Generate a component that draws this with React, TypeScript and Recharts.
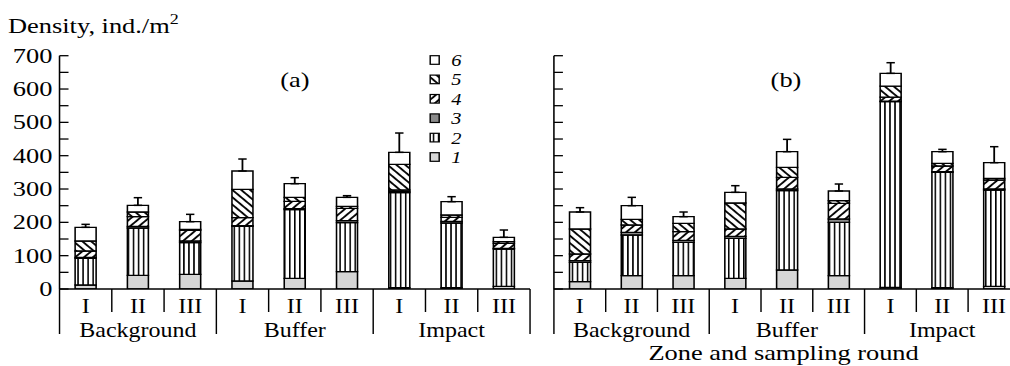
import React from 'react'
import { BarChart, Bar, XAxis, YAxis, ErrorBar, Legend } from 'recharts'

const rounds = ['I', 'II', 'III', 'I', 'II', 'III', 'I', 'II', 'III']
const zones = ['Background', 'Buffer', 'Impact']
const groupNames = ['1', '2', '3', '4', '5', '6']
const yTicks = [0, 50, 100, 150, 200, 250, 300, 350, 400, 450, 500, 550, 600, 650, 700]

// panel (a), groups 1..6, bottom to top
const a1 = [12, 41, 44, 24, 32, 52, 4, 4, 8]
const a2 = [80, 142, 95, 164, 206, 147, 285, 194, 112]
const a3 = [3, 5, 5, 2, 3, 6, 3, 5, 2]
const a4 = [19, 29, 32, 24, 22, 37, 5, 12, 15]
const a5 = [30, 14, 3, 85, 12, 6, 77, 7, 5]
const a6 = [41, 20, 23, 55, 41, 27, 36, 40, 13]
const aErrTop = [194, 274, 224, 390, 334, 280, 468, 277, 177]

// panel (b)
const b1 = [22, 40, 40, 32, 57, 40, 5, 4, 8]
const b2 = [58, 122, 100, 120, 238, 160, 557, 346, 289]
const b3 = [5, 8, 6, 6, 5, 10, 2, 2, 3]
const b4 = [20, 22, 26, 22, 35, 47, 12, 17, 27]
const b5 = [75, 17, 25, 78, 30, 8, 33, 8, 5]
const b6 = [51, 41, 20, 32, 47, 29, 38, 35, 47]
const bErrTop = [244, 275, 231, 310, 449, 315, 679, 419, 427]

// the printed figure is stretched sideways, so draw narrow and scale x
const SX = 1.2
const AXIS_W = 49.6
const H = 366
const FILLS = ['#d6d6d6', 'url(#vstripe)', '#8a8a8a', 'url(#hatchF)', 'url(#hatchB)', '#ffffff']

function buildRows(series: number[][], errTop: number[]) {
  return rounds.map((r, i) => {
    const row: any = { id: `${zones[Math.floor(i / 3)]}-${r}` }
    let total = 0
    series.forEach((s, k) => {
      row[`s${k + 1}`] = s[i]
      total += s[i]
    })
    row.errRange = [0, errTop[i] - total]
    return row
  })
}

const rowsA = buildRows([a1, a2, a3, a4, a5, a6], aErrTop)
const rowsB = buildRows([b1, b2, b3, b4, b5, b6], bErrTop)

function YTick(props: any) {
  const { x, y, payload, showLabel } = props
  return (
    <g>
      <line x1={x} x2={x + 7.5} y1={y} y2={y} stroke="#000" strokeWidth={1.3} />
      {showLabel && payload.value % 100 === 0 && (
        <text x={x - 6} y={y + 7} textAnchor="end" fontSize={22} fill="#000">
          {payload.value}
        </text>
      )}
    </g>
  )
}

function XTick(props: any) {
  const { x, y, index, step } = props
  const left = x - step / 2
  return (
    <g stroke="none" fill="#000">
      <text x={x} y={y + 24} textAnchor="middle" fontSize={20}>
        {rounds[index]}
      </text>
      <line x1={left} x2={left} y1={y} y2={y + (index % 3 === 0 ? 45 : 23)} stroke="#000" strokeWidth={1.2} />
      {index % 3 === 1 && (
        <text x={x} y={y + 48} textAnchor="middle" fontSize={20}>
          {zones[(index - 1) / 3]}
        </text>
      )}
      {index === rounds.length - 1 && (
        <line x1={x + step / 2} x2={x + step / 2} y1={y} y2={y + 45} stroke="#000" strokeWidth={1.2} />
      )}
    </g>
  )
}

function LegendBox(props: any) {
  const items = [...(props.payload || [])].reverse()
  return (
    <svg width={50} height={125}>
      {items.map((it: any, i: number) => {
        const cy = 12 + i * 19.4
        return (
          <g key={it.value}>
            <rect x={3.5} y={cy - 4.3} width={7.5} height={8.6} fill={it.color} stroke="#000" strokeWidth={1.2} />
            <text x={21} y={cy + 6} fontSize={17} fontStyle="italic" fill="#000">
              {it.value}
            </text>
          </g>
        )
      })}
    </svg>
  )
}

function Panel({ data, width, plotW, showLabels, legend }: any) {
  const step = plotW / rounds.length
  return (
    <BarChart
      width={width}
      height={H}
      data={data}
      margin={{ top: 55.7, right: width - AXIS_W - plotW, bottom: 0, left: 0 }}
      barSize={17.5}
    >
      <XAxis
        dataKey="id"
        height={77}
        interval={0}
        tickLine={false}
        tickSize={0}
        tickMargin={0}
        axisLine={{ stroke: '#000', strokeWidth: 1.3 }}
        tick={<XTick step={step} />}
      />
      <YAxis
        type="number"
        width={AXIS_W}
        domain={[0, 700]}
        ticks={yTicks}
        interval={0}
        allowDataOverflow
        tickLine={false}
        tickSize={0}
        tickMargin={0}
        axisLine={{ stroke: '#000', strokeWidth: 1.3 }}
        tick={<YTick showLabel={showLabels} />}
      />
      {FILLS.map((f, k) => (
        <Bar
          key={k}
          dataKey={`s${k + 1}`}
          name={groupNames[k]}
          stackId="z"
          fill={f}
          stroke="#000"
          strokeWidth={1.3}
          isAnimationActive={false}
        >
          {k === 5 && <ErrorBar dataKey="errRange" width={3.5} stroke="#000" strokeWidth={1.5} direction="y" />}
        </Bar>
      ))}
      {legend && (
        <Legend
          layout="vertical"
          align="center"
          verticalAlign="middle"
          content={LegendBox}
          wrapperStyle={{ left: 355, top: 48, width: 50, height: 125 }}
        />
      )}
    </BarChart>
  )
}

export default function App() {
  const aPlotW = 441.7 - AXIS_W
  const bLeft = 461.7 - AXIS_W
  const bPlotW = 850 - 461.7
  return (
    <div
      style={{
        position: 'absolute',
        left: 0,
        top: 0,
        width: 1010,
        height: H,
        overflow: 'hidden',
        background: '#fff',
        fontFamily: '"Liberation Serif", "Times New Roman", serif',
      }}
    >
      <div style={{ position: 'relative', width: 860, height: H, transform: `scaleX(${SX})`, transformOrigin: '0 0' }}>
        <svg width={0} height={0} style={{ position: 'absolute' }}>
          <defs>
            <pattern id="vstripe" patternUnits="userSpaceOnUse" width={4.2} height={10}>
              <rect width={4.2} height={10} fill="#fff" />
              <rect x={1.4} width={1.3} height={10} fill="#000" />
            </pattern>
            <pattern id="hatchF" patternUnits="userSpaceOnUse" width={5.2} height={5.2} patternTransform="rotate(45)">
              <rect width={5.2} height={5.2} fill="#fff" />
              <rect x={1.8} width={1.7} height={5.2} fill="#000" />
            </pattern>
            <pattern id="hatchB" patternUnits="userSpaceOnUse" width={5.2} height={5.2} patternTransform="rotate(-45)">
              <rect width={5.2} height={5.2} fill="#fff" />
              <rect x={1.8} width={1.7} height={5.2} fill="#000" />
            </pattern>
          </defs>
        </svg>
        <div style={{ position: 'absolute', left: 0, top: 0 }}>
          <Panel data={rowsA} width={450} plotW={aPlotW} showLabels legend />
        </div>
        <div style={{ position: 'absolute', left: bLeft, top: 0 }}>
          <Panel data={rowsB} width={AXIS_W + bPlotW + 2} plotW={bPlotW} showLabels={false} legend={false} />
        </div>
        <svg width={860} height={H} style={{ position: 'absolute', left: 0, top: 0, pointerEvents: 'none' }}>
          <text x={6.7} y={33} fontSize={22} fill="#000">
            Density, ind./m
            <tspan dy={-9} fontSize={15}>2</tspan>
          </text>
          <text x={245.8} y={87} fontSize={22} textAnchor="middle" fill="#000">(a)</text>
          <text x={655} y={87} fontSize={22} textAnchor="middle" fill="#000">(b)</text>
          <text x={653} y={360} fontSize={22} textAnchor="middle" fill="#000">Zone and sampling round</text>
        </svg>
      </div>
    </div>
  )
}
